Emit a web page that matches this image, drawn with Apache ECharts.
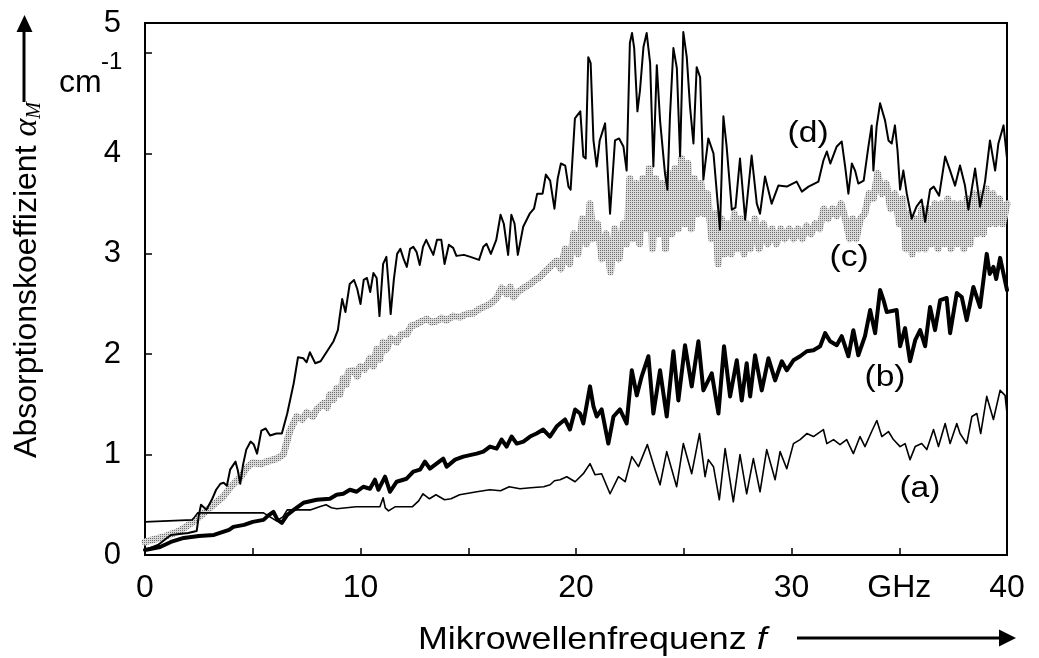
<!DOCTYPE html>
<html><head><meta charset="utf-8">
<script src="https://cdn.jsdelivr.net/npm/echarts@6/dist/echarts.min.js"></script>
<style>html,body{margin:0;padding:0;background:#fff}#c{width:1039px;height:658px}</style>
</head><body><div id="c"></div>
<script>
// x tick labels (GHz unit replaces the 35 label)
const xTickLabels = {0:'0',10:'10',20:'20',30:'30',35:'GHz',40:'40'};
// y tick labels: the top label "5" sits at the frame top
const yTickLabels = {0:'0',1:'1',2:'2',3:'3',4:'4',5:'',5.3:'5'};

// (a) thin black
const curveA = [[0,0.33],[2.2,0.35],[2.45,0.42],[5.5,0.42],[5.8,0.38],[6.1,0.34],[6.4,0.38],[6.6,0.45],[7.7,0.45],[8.1,0.48],[8.4,0.5],[8.65,0.47],[8.9,0.46],[9.8,0.48],[10.9,0.48],[11.05,0.57],[11.15,0.47],[11.3,0.44],[11.6,0.48],[12.4,0.48],[12.7,0.54],[12.9,0.61],[13.2,0.56],[13.5,0.6],[13.9,0.55],[14.2,0.56],[14.6,0.6],[15.4,0.63],[16.0,0.65],[16.5,0.64],[16.9,0.68],[17.4,0.66],[17.9,0.67],[18.5,0.68],[18.8,0.7],[19.0,0.74],
[19.26,0.75],[19.57,0.78],[19.96,0.73],[20.34,0.81],[20.65,0.91],[20.88,0.8],[21.19,0.81],[21.58,0.61],[21.97,0.78],[22.28,0.73],[22.59,0.98],[22.9,0.88],[23.31,1.1],[23.67,0.85],[23.9,0.7],[24.21,1.03],[24.67,0.68],[24.98,1.11],[25.37,0.81],[25.73,1.21],[25.99,0.78],[26.14,0.95],[26.38,0.88],[26.65,0.55],[26.92,1.06],[27.3,0.53],[27.61,1.0],[27.92,0.61],[28.23,0.96],[28.54,0.63],[28.85,1.05],[29.24,0.75],[29.47,1.03],[29.78,0.86],[30.09,1.11],[30.4,1.15],[30.71,1.21],[31.02,1.18],[31.48,1.25],[31.64,1.11],[31.95,1.15],[32.25,1.1],[32.56,1.15],[32.87,1.01],[33.18,1.18],[33.41,1.08],[33.72,1.23],[33.96,1.34],[34.19,1.18],[34.5,1.23],[34.73,1.15],[35.04,1.08],[35.27,1.11],[35.5,0.95],[35.74,1.08],[36.04,1.11],[36.28,1.05],[36.59,1.25],[36.82,1.08],[37.13,1.31],[37.36,1.11],[37.67,1.31],[37.82,1.21],[38.13,1.11],[38.37,1.38],[38.6,1.41],[38.78,1.21],[39.06,1.58],[39.37,1.35],[39.68,1.64],[39.91,1.59],[40.0,1.41]];

// (b) thick black
const curveB = [[0,0.05],[0.7,0.08],[1.2,0.13],[1.8,0.17],[2.5,0.19],[3.2,0.2],[3.9,0.25],[4.1,0.28],[4.6,0.3],[5.0,0.33],[5.5,0.35],[5.7,0.39],[5.96,0.43],[6.15,0.35],[6.35,0.32],[6.6,0.4],[6.9,0.45],[7.35,0.52],[7.97,0.55],[8.58,0.56],[8.89,0.6],[9.2,0.61],[9.51,0.65],[9.82,0.63],[10.13,0.68],[10.44,0.66],[10.67,0.75],[10.83,0.65],[11.14,0.78],[11.37,0.63],[11.68,0.73],[12.14,0.76],[12.45,0.83],[12.76,0.85],[12.99,0.93],[13.22,0.86],[13.53,0.91],[13.84,0.96],[14.0,0.88],[14.39,0.95],[14.77,0.98],[15.39,1.01],[15.7,1.03],[16.01,1.08],[16.32,1.06],[16.55,1.15],[16.78,1.08],[17.01,1.18],[17.25,1.11],[17.56,1.13],[17.87,1.18],[18.17,1.21],[18.48,1.25],[18.79,1.18],[19.1,1.28],
[19.26,1.31],[19.49,1.35],[19.72,1.25],[19.96,1.45],[20.19,1.41],[20.34,1.31],[20.65,1.68],[20.81,1.48],[20.96,1.38],[21.19,1.45],[21.5,1.11],[21.74,1.38],[22.04,1.45],[22.35,1.31],[22.59,1.84],[22.82,1.59],[23.05,1.78],[23.36,1.98],[23.59,1.41],[23.9,1.84],[24.21,1.38],[24.52,2.03],[24.75,1.54],[25.06,2.09],[25.37,1.68],[25.68,2.13],[25.91,1.64],[26.3,1.81],[26.61,1.41],[26.87,2.08],[27.15,1.58],[27.46,1.94],[27.69,1.54],[27.92,1.91],[28.08,1.58],[28.31,1.99],[28.62,1.64],[28.93,1.96],[29.24,1.74],[29.55,1.93],[29.78,1.84],[30.09,1.94],[30.4,1.98],[30.71,2.03],[31.02,2.04],[31.33,2.08],[31.56,2.21],[31.79,2.13],[32.1,2.09],[32.33,2.18],[32.64,1.98],[32.87,2.24],[33.1,1.99],[33.41,2.18],[33.65,2.44],[33.88,2.21],[34.11,2.64],[34.27,2.54],[34.42,2.42],[34.88,2.44],[35.04,2.08],[35.27,2.26],[35.5,1.93],[35.74,2.14],[35.97,2.24],[36.2,2.08],[36.43,2.47],[36.66,2.24],[36.9,2.54],[37.2,2.56],[37.36,2.21],[37.67,2.61],[37.9,2.57],[38.13,2.34],[38.44,2.67],[38.75,2.47],[39.06,3.0],[39.2,2.8],[39.37,2.87],[39.5,2.75],[39.68,2.96],[40.0,2.64]];

// (c) grey stippled band
const curveC = [[0,0.13],[0.85,0.18],[1.62,0.24],[2.09,0.31],[2.4,0.36],[2.8,0.43],[3.17,0.5],[3.63,0.58],[3.94,0.67],[4.41,0.77],[4.72,0.87],[5.0,0.92],[5.4,0.91],[5.65,0.93],[6.11,0.96],[6.42,1.0],[6.73,1.24],[7.04,1.38],[7.3,1.35],[7.5,1.42],[7.8,1.38],[7.97,1.45],[8.28,1.51],[8.45,1.47],[8.58,1.6],[8.75,1.55],[8.89,1.66],[9.05,1.6],[9.2,1.76],[9.35,1.7],[9.44,1.83],[9.67,1.84],[9.85,1.78],[9.98,1.88],[10.2,1.85],[10.44,1.96],[10.6,1.88],[10.75,2.05],[10.9,1.95],[11.05,2.12],[11.21,2.05],[11.4,2.16],[11.68,2.12],[11.9,2.2],[12.14,2.2],[12.35,2.28],[12.6,2.3],[12.85,2.33],[13.07,2.35],[13.3,2.32],[13.53,2.33],[13.75,2.36],[14.0,2.34],[14.3,2.38],[14.62,2.37],[14.9,2.4],[15.24,2.41],[15.5,2.45],[15.7,2.47],[16.0,2.5],[16.32,2.56],[16.55,2.66],[16.78,2.6],[16.95,2.67],[17.1,2.57],[17.3,2.62],[17.56,2.66],[17.87,2.7],[18.1,2.74],[18.33,2.77],[18.55,2.82],[18.79,2.87],[19.1,2.93],
[19.3,2.85],[19.5,3.05],[19.7,2.9],[19.9,3.2],[20.1,3.0],[20.3,3.35],[20.5,3.1],[20.65,3.5],[20.8,3.15],[21.0,3.3],[21.2,2.95],[21.4,3.2],[21.6,2.82],[21.8,3.25],[22.0,2.95],[22.2,3.3],[22.35,3.1],[22.5,3.75],[22.65,3.15],[22.8,3.7],[22.95,3.1],[23.1,3.75],[23.25,3.25],[23.4,3.85],[23.55,3.05],[23.7,3.75],[23.85,3.2],[24.0,3.7],[24.15,3.05],[24.3,3.8],[24.45,3.2],[24.6,3.85],[24.75,3.25],[24.9,3.95],[25.05,3.3],[25.2,3.9],[25.35,3.25],[25.5,3.75],[25.65,3.4],[25.8,3.7],[25.95,3.4],[26.1,3.6],[26.3,3.15],[26.45,3.4],[26.6,2.9],[26.75,3.35],[26.9,3.0],[27.05,3.3],[27.2,3.0],[27.35,3.4],[27.5,3.05],[27.65,3.35],[27.8,3.0],[27.95,3.3],[28.1,3.05],[28.3,3.35],[28.5,3.05],[28.7,3.3],[28.9,3.1],[29.1,3.25],[29.3,3.1],[29.5,3.25],[29.7,3.15],[29.9,3.25],[30.1,3.15],[30.3,3.25],[30.5,3.15],[30.7,3.28],[30.9,3.2],[31.1,3.3],[31.3,3.25],[31.5,3.45],[31.7,3.35],[31.9,3.45],[32.1,3.38],[32.3,3.5],[32.5,3.35],[32.7,3.15],[32.85,3.35],[33.0,3.15],[33.2,3.35],[33.4,3.4],[33.6,3.6],[33.8,3.55],[34.0,3.8],[34.2,3.6],[34.4,3.7],[34.6,3.45],[34.8,3.6],[35.0,3.3],[35.15,3.55],[35.3,3.05],[35.45,3.4],[35.6,3.0],[35.75,3.35],[35.9,3.05],[36.05,3.45],[36.2,3.05],[36.35,3.45],[36.5,3.1],[36.65,3.5],[36.8,3.05],[36.95,3.5],[37.1,3.1],[37.25,3.55],[37.4,3.05],[37.55,3.5],[37.7,3.1],[37.85,3.5],[38.0,3.05],[38.15,3.55],[38.3,3.1],[38.45,3.6],[38.6,3.2],[38.75,3.6],[38.9,3.2],[39.05,3.65],[39.2,3.3],[39.35,3.6],[39.5,3.3],[39.65,3.55],[39.8,3.3],[40.0,3.5]];

// (d) thin black, top
const curveD = [[0,0.05],[0.6,0.1],[1.2,0.2],[2.0,0.22],[2.4,0.24],[2.5,0.4],[2.6,0.5],[2.85,0.45],[3.1,0.55],[3.3,0.65],[3.5,0.71],[3.65,0.72],[3.8,0.69],[3.95,0.85],[4.2,0.93],[4.3,0.85],[4.42,0.71],[4.55,0.9],[4.7,1.05],[4.9,1.13],[5.05,1.1],[5.2,1.01],[5.4,1.24],[5.6,1.26],[5.8,1.19],[6.1,1.21],[6.35,1.21],[6.6,1.41],[6.9,1.71],[7.1,1.97],[7.35,1.96],[7.5,1.92],[7.65,2.02],[7.9,1.91],[8.15,1.93],[8.45,2.03],[8.75,2.13],[8.95,2.24],[9.05,2.4],[9.15,2.55],[9.3,2.42],[9.5,2.7],[9.7,2.74],[9.85,2.65],[10.0,2.5],[10.15,2.74],[10.3,2.76],[10.45,2.62],[10.6,2.81],[10.75,2.76],[10.88,2.38],[11.05,2.9],[11.2,2.97],[11.3,2.7],[11.4,2.4],[11.55,2.75],[11.7,3.0],[11.85,3.05],[12.0,2.95],[12.15,2.87],[12.3,3.05],[12.45,3.07],[12.6,3.02],[12.75,2.89],[12.9,3.07],[13.05,3.14],[13.2,3.07],[13.38,2.99],[13.55,3.14],[13.75,3.14],[13.9,2.9],[14.1,3.09],[14.3,3.06],[14.45,2.98],[14.8,2.99],[15.1,2.97],[15.5,2.94],[15.7,3.07],[15.85,3.1],[16.05,3.0],[16.3,3.14],[16.5,3.39],[16.65,3.3],[16.85,2.99],[17.0,3.39],[17.15,3.3],[17.3,2.99],[17.55,3.27],[17.85,3.4],[18.05,3.45],[18.2,3.6],[18.45,3.6],[18.6,3.79],[18.8,3.73],[19.0,3.45],[19.15,3.75],[19.3,3.9],[19.5,3.88],[19.65,3.67],[19.75,3.64],[19.95,4.35],[20.2,4.42],[20.34,3.97],[20.45,3.95],[20.57,4.96],[20.68,4.9],[20.81,4.13],[20.96,3.87],[21.1,4.13],[21.35,4.3],[21.58,3.4],[21.81,4.13],[22.0,4.15],[22.2,4.07],[22.35,3.83],[22.5,5.1],[22.6,5.2],[22.7,5.05],[22.85,4.42],[22.97,4.63],[23.13,5.06],[23.28,5.2],[23.44,4.9],[23.59,3.87],[23.75,4.88],[23.9,4.33],[24.13,3.8],[24.24,3.64],[24.36,4.37],[24.52,5.05],[24.68,4.85],[24.83,3.97],[24.98,5.21],[25.14,4.96],[25.29,4.47],[25.45,4.1],[25.6,4.86],[25.76,4.76],[25.91,3.74],[26.14,4.15],[26.38,4.0],[26.68,3.24],[26.84,4.37],[26.99,4.07],[27.23,3.44],[27.4,3.46],[27.61,3.95],[27.85,3.34],[28.15,3.98],[28.39,3.5],[28.54,3.4],[28.77,3.77],[29.08,3.5],[29.39,3.68],[29.78,3.67],[30.24,3.72],[30.48,3.62],[30.79,3.67],[31.25,3.72],[31.48,3.93],[31.64,4.02],[31.8,3.9],[32.1,4.07],[32.33,4.12],[32.49,3.87],[32.64,3.6],[32.8,3.9],[32.95,3.83],[33.1,3.7],[33.35,3.73],[33.57,4.07],[33.72,4.28],[33.8,3.83],[33.95,4.27],[34.11,4.5],[34.34,4.33],[34.5,4.13],[34.65,4.1],[34.8,4.28],[34.92,4.03],[35.04,3.64],[35.19,3.83],[35.35,3.6],[35.58,3.35],[35.8,3.47],[36.04,3.54],[36.2,3.32],[36.43,3.64],[36.6,3.67],[36.85,3.58],[37.13,3.97],[37.36,3.83],[37.59,3.68],[37.82,3.88],[38.05,3.68],[38.21,3.44],[38.52,3.85],[38.75,3.47],[38.98,3.72],[39.21,4.13],[39.45,3.83],[39.6,4.1],[39.84,4.28],[40.0,3.95]];

// curve annotation labels (text, f, alpha)
const curveLabels = [['(a)',35.96,0.66],['(b)',34.34,1.77],['(c)',32.67,2.96],['(d)',30.77,4.20]];

const FONT = '"Liberation Sans", Arial, sans-serif';
const chart = echarts.init(document.getElementById('c'), null, {renderer:'canvas'});

// fine stipple pattern for band (c)
const pc = document.createElement('canvas');
pc.width = 2; pc.height = 2;
const pctx = pc.getContext('2d');
pctx.fillStyle = '#d9d9d9'; pctx.fillRect(0,0,2,2);
pctx.fillStyle = '#6e6e6e'; pctx.fillRect(0,0,1,1);

function lineSeries(name, data, color, width, z){
  return {name, type:'line', data, showSymbol:false, symbol:'none', z,
    lineStyle:{color, width, join:'round', cap:'round'}, emphasis:{disabled:true}, silent:true};
}

chart.setOption({
  animation:false,
  grid:{left:145,right:32,top:23,bottom:103,show:true,borderColor:'#000',borderWidth:2},
  xAxis:{type:'value',min:0,max:40,interval:5,
    axisLine:{lineStyle:{color:'#000',width:2}},
    axisTick:{inside:true,length:7,lineStyle:{color:'#000',width:1.5}},
    axisLabel:{margin:17,fontSize:32,color:'#000',fontFamily:FONT,
      formatter:v=> (xTickLabels[v]!==undefined? xTickLabels[v] : '')},
    splitLine:{show:false}},
  yAxis:{type:'value',min:0,max:5.3,interval:1,
    axisLine:{lineStyle:{color:'#000',width:2}},
    axisTick:{inside:true,length:7,lineStyle:{color:'#000',width:1.5}},
    axisLabel:{margin:24,fontSize:31,color:'#000',fontFamily:FONT,showMaxLabel:true,showMinLabel:true,
      formatter:v=>{const k=Math.round(v*10)/10; return yTickLabels[k]!==undefined? yTickLabels[k] : '';}},
    splitLine:{show:false}},
  series:[
    lineSeries('c', curveC, {image:pc, repeat:'repeat'}, 7, 2),
    lineSeries('a', curveA, '#000', 1.6, 3),
    lineSeries('b', curveB, '#000', 4, 4),
    lineSeries('d', curveD, '#000', 2, 5)
  ]
});

const graphics = [
  // y-axis name (rotated)
  {type:'text', x:27, y:280, rotation:Math.PI/2, z:10,
   style:{text:'{n|Absorptionskoeffizient }{al|α}{sub|M}', align:'center', verticalAlign:'middle', fill:'#000',
     rich:{n:{fontSize:32,fontFamily:FONT,fill:'#000'},
           al:{fontSize:34,fontFamily:'"Liberation Serif", serif',fontStyle:'italic',fill:'#000'},
           sub:{fontSize:20,fontFamily:'"Liberation Serif", serif',fontStyle:'italic',fill:'#000',padding:[16,0,0,0]}}}},
  // y arrow
  {type:'line', z:10, shape:{x1:24,y1:102,x2:24,y2:28}, style:{stroke:'#000',lineWidth:3}},
  {type:'polygon', z:10, shape:{points:[[24.5,15],[16.5,32],[32.5,32]]}, style:{fill:'#000'}},
  // unit cm^-1
  {type:'text', x:59, y:83, z:10, style:{text:'cm', font:'32px '+FONT, fill:'#000', align:'left', verticalAlign:'middle'}},
  {type:'text', x:101, y:62, z:10, style:{text:'-1', font:'24px '+FONT, fill:'#000', align:'left', verticalAlign:'middle'}},
  // x-axis name
  {type:'text', x:418, y:640, scaleX:1.12, z:10,
   style:{text:'{n|Mikrowellenfrequenz }{f|f}', align:'left', verticalAlign:'middle', fill:'#000',
     rich:{n:{fontSize:32,fontFamily:FONT,fill:'#000'}, f:{fontSize:32,fontFamily:FONT,fontStyle:'italic',fill:'#000'}}}},
  // x arrow
  {type:'line', z:10, shape:{x1:797,y1:638,x2:1002,y2:638}, style:{stroke:'#000',lineWidth:3}},
  {type:'polygon', z:10, shape:{points:[[1016,638],[999,629.5],[999,646.5]]}, style:{fill:'#000'}}
];
curveLabels.forEach(([t,f,v])=>{
  const p = chart.convertToPixel({gridIndex:0},[f,v]);
  graphics.push({type:'text', x:p[0], y:p[1], scaleX:1.12, z:10,
    style:{text:t, font:'30px '+FONT, fill:'#000', align:'center', verticalAlign:'middle'}});
});
chart.setOption({graphic:graphics});
</script>
</body></html>
